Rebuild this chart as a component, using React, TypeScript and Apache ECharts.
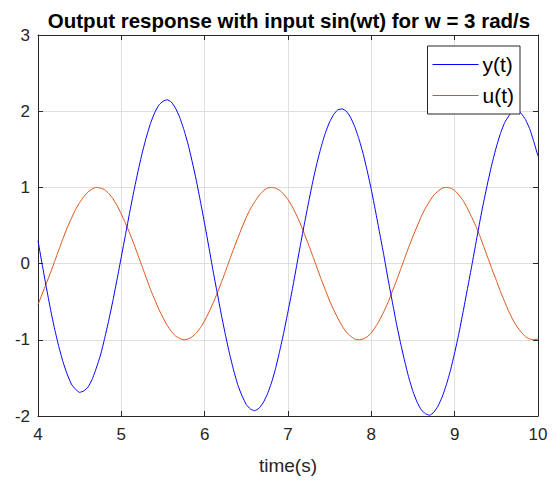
import React, { useEffect, useRef } from "react";
import * as echarts from "echarts";

const time: number[] = [
  4.00, 4.05, 4.10, 4.15, 4.20, 4.25, 4.30, 4.35, 4.40, 4.45,
  4.50, 4.55, 4.60, 4.65, 4.70, 4.75, 4.80, 4.85, 4.90, 4.95,
  5.00, 5.05, 5.10, 5.15, 5.20, 5.25, 5.30, 5.35, 5.40, 5.45,
  5.50, 5.55, 5.60, 5.65, 5.70, 5.75, 5.80, 5.85, 5.90, 5.95,
  6.00, 6.05, 6.10, 6.15, 6.20, 6.25, 6.30, 6.35, 6.40, 6.45,
  6.50, 6.55, 6.60, 6.65, 6.70, 6.75, 6.80, 6.85, 6.90, 6.95,
  7.00, 7.05, 7.10, 7.15, 7.20, 7.25, 7.30, 7.35, 7.40, 7.45,
  7.50, 7.55, 7.60, 7.65, 7.70, 7.75, 7.80, 7.85, 7.90, 7.95,
  8.00, 8.05, 8.10, 8.15, 8.20, 8.25, 8.30, 8.35, 8.40, 8.45,
  8.50, 8.55, 8.60, 8.65, 8.70, 8.75, 8.80, 8.85, 8.90, 8.95,
  9.00, 9.05, 9.10, 9.15, 9.20, 9.25, 9.30, 9.35, 9.40, 9.45,
  9.50, 9.55, 9.60, 9.65, 9.70, 9.75, 9.80, 9.85, 9.90, 9.95,
  10.00,
];

const yValues: number[] = [
  0.30, -0.01, -0.31, -0.60, -0.86, -1.09, -1.29, -1.45, -1.58, -1.65,
  -1.69, -1.67, -1.62, -1.52, -1.37, -1.20, -0.98, -0.74, -0.48, -0.20,
  0.09, 0.38, 0.67, 0.95, 1.21, 1.45, 1.66, 1.84, 1.98, 2.08,
  2.13, 2.15, 2.12, 2.04, 1.92, 1.76, 1.57, 1.34, 1.09, 0.81,
  0.52, 0.22, -0.09, -0.38, -0.67, -0.94, -1.19, -1.41, -1.60, -1.74,
  -1.85, -1.91, -1.93, -1.90, -1.83, -1.72, -1.57, -1.38, -1.15, -0.90,
  -0.63, -0.35, -0.05, 0.25, 0.54, 0.82, 1.09, 1.33, 1.54, 1.72,
  1.86, 1.96, 2.02, 2.03, 2.00, 1.92, 1.80, 1.64, 1.45, 1.22,
  0.97, 0.69, 0.40, 0.11, -0.20, -0.49, -0.78, -1.04, -1.28, -1.50,
  -1.68, -1.82, -1.92, -1.97, -1.99, -1.95, -1.87, -1.75, -1.59, -1.40,
  -1.17, -0.92, -0.64, -0.35, -0.06, 0.24, 0.54, 0.82, 1.08, 1.32,
  1.53, 1.71, 1.85, 1.94, 2.00, 2.01, 1.97, 1.89, 1.77, 1.60,
  1.41,
];

const uValues: number[] = [
  -0.54, -0.40, -0.26, -0.12, 0.03, 0.18, 0.33, 0.47, 0.59, 0.71,
  0.80, 0.88, 0.94, 0.98, 1.00, 0.99, 0.97, 0.92, 0.85, 0.76,
  0.65, 0.53, 0.40, 0.26, 0.11, -0.04, -0.19, -0.34, -0.47, -0.60,
  -0.71, -0.81, -0.89, -0.95, -0.98, -1.00, -0.99, -0.96, -0.91, -0.84,
  -0.75, -0.64, -0.52, -0.39, -0.25, -0.10, 0.05, 0.20, 0.34, 0.48,
  0.61, 0.72, 0.81, 0.89, 0.95, 0.99, 1.00, 0.99, 0.96, 0.91,
  0.84, 0.75, 0.64, 0.52, 0.38, 0.24, 0.09, -0.06, -0.21, -0.35,
  -0.49, -0.61, -0.72, -0.82, -0.90, -0.95, -0.99, -1.00, -0.99, -0.96,
  -0.91, -0.83, -0.74, -0.63, -0.51, -0.37, -0.23, -0.08, 0.07, 0.22,
  0.36, 0.49, 0.62, 0.73, 0.82, 0.90, 0.95, 0.99, 1.00, 0.99,
  0.96, 0.90, 0.83, 0.73, 0.62, 0.50, 0.37, 0.22, 0.07, -0.08,
  -0.22, -0.37, -0.50, -0.63, -0.74, -0.83, -0.90, -0.96, -0.99, -1.00,
  -0.99,
];

const xTicks: number[] = [4, 5, 6, 7, 8, 9, 10];
const yTicks: number[] = [-2, -1, 0, 1, 2, 3];
const titleText = "Output response with input sin(wt) for w = 3 rad/s";
const xLabel = "time(s)";
const seriesNames = ["y(t)", "u(t)"];

const FONT = "'Liberation Sans', Arial, Helvetica, sans-serif";
const AXIS_COLOR = "#262626";
const GRID_COLOR = "#dfdfdf";

export default function App() {
  const ref = useRef<HTMLDivElement>(null);

  useEffect(() => {
    document.body.style.margin = "0";
    if (!ref.current) return;
    const chart = echarts.init(ref.current, null, { renderer: "svg" });
    const yData = time.map((t, i) => [t, yValues[i]]);
    const uData = time.map((t, i) => [t, uValues[i]]);
    const xMin = xTicks[0];
    const xMax = xTicks[xTicks.length - 1];
    const yMin = yTicks[0];
    const yMax = yTicks[yTicks.length - 1];

    const hiddenAxisCommon = {
      axisLine: { show: true, onZero: false, lineStyle: { color: AXIS_COLOR, width: 1 } },
      axisTick: { show: true, inside: true, length: 5, lineStyle: { color: AXIS_COLOR } },
      axisLabel: { show: false },
      splitLine: { show: false },
    };

    chart.setOption({
      animation: false,
      backgroundColor: "#ffffff",
      title: {
        text: titleText,
        left: 284,
        textAlign: "center",
        top: 5,
        textStyle: { fontFamily: FONT, fontSize: 20.5, fontWeight: "bold", color: "#000000" },
      },
      legend: {
        data: seriesNames,
        orient: "vertical",
        right: 38,
        top: 46,
        icon: "rect",
        backgroundColor: "#ffffff",
        borderColor: AXIS_COLOR,
        borderWidth: 1,
        borderRadius: 0,
        padding: [7, 6, 7, 5],
        itemWidth: 46,
        itemHeight: 1.2,
        itemGap: 8,
        textStyle: {
          fontFamily: FONT,
          fontSize: 21,
          color: "#000000",
          padding: [0, 0, 0, -1],
          lineHeight: 23,
        },
      },
      grid: {
        left: 38,
        right: 20,
        top: 35,
        bottom: 64,
        containLabel: false,
      },
      xAxis: [
        {
          type: "value",
          min: xMin,
          max: xMax,
          interval: 1,
          position: "bottom",
          name: xLabel,
          nameLocation: "middle",
          nameGap: 40,
          nameTextStyle: { fontFamily: FONT, fontSize: 19, color: AXIS_COLOR },
          axisLine: { show: true, onZero: false, lineStyle: { color: AXIS_COLOR, width: 1 } },
          axisTick: { show: true, inside: true, length: 5, lineStyle: { color: AXIS_COLOR } },
          axisLabel: {
            fontFamily: FONT,
            fontSize: 17,
            color: AXIS_COLOR,
            margin: 10,
            showMinLabel: true,
            showMaxLabel: true,
          },
          splitLine: { show: true, lineStyle: { color: GRID_COLOR, width: 1 } },
        },
        {
          type: "value",
          min: xMin,
          max: xMax,
          interval: 1,
          position: "top",
          ...hiddenAxisCommon,
        },
      ],
      yAxis: [
        {
          type: "value",
          min: yMin,
          max: yMax,
          interval: 1,
          position: "left",
          axisLine: { show: true, onZero: false, lineStyle: { color: AXIS_COLOR, width: 1 } },
          axisTick: { show: true, inside: true, length: 5, lineStyle: { color: AXIS_COLOR } },
          axisLabel: {
            fontFamily: FONT,
            fontSize: 17,
            color: AXIS_COLOR,
            margin: 8,
            showMinLabel: true,
            showMaxLabel: true,
          },
          splitLine: { show: true, lineStyle: { color: GRID_COLOR, width: 1 } },
        },
        {
          type: "value",
          min: yMin,
          max: yMax,
          interval: 1,
          position: "right",
          ...hiddenAxisCommon,
        },
      ],
      series: [
        {
          name: seriesNames[0],
          type: "line",
          data: yData,
          smooth: 0.15,
          symbol: "none",
          showSymbol: false,
          clip: true,
          lineStyle: { color: "#0000ff", width: 1 },
          itemStyle: { color: "#0000ff" },
          z: 3,
        },
        {
          name: seriesNames[1],
          type: "line",
          data: uData,
          smooth: 0.15,
          symbol: "none",
          showSymbol: false,
          clip: true,
          lineStyle: { color: "#d95319", width: 1 },
          itemStyle: { color: "#d95319" },
          z: 2,
        },
      ],
    });

    return () => {
      chart.dispose();
    };
  }, []);

  return <div ref={ref} style={{ width: 558, height: 480 }} />;
}
